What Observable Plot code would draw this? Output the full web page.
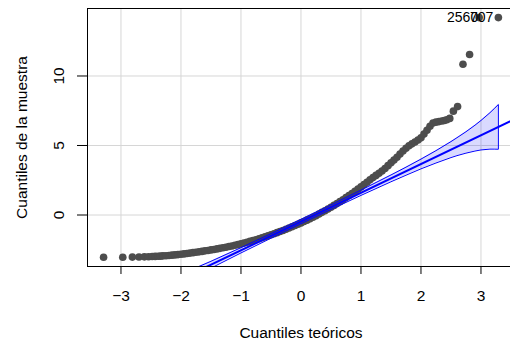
<!DOCTYPE html>
<html><head><meta charset="utf-8">
<script src="https://cdn.jsdelivr.net/npm/d3@7"></script>
<script src="https://cdn.jsdelivr.net/npm/@observablehq/plot@0.6"></script>
<style>body{margin:0;background:#fff;overflow:hidden;}</style>
</head><body><div id="chart"></div>
<script>
// Theoretical quantiles (x) and sample quantiles (y)
const theoretical = [-3.29,-2.97,-2.81,-2.70,-2.61,-2.54,-2.48,-2.43,-2.38,-2.34,
  -2.30,-2.25,-2.20,-2.15,-2.10,-2.05,-2.00,-1.95,-1.90,-1.85,
  -1.80,-1.75,-1.70,-1.65,-1.60,-1.55,-1.50,-1.45,-1.40,-1.35,
  -1.30,-1.25,-1.20,-1.15,-1.10,-1.05,-1.00,-0.95,-0.90,-0.85,
  -0.80,-0.75,-0.70,-0.65,-0.60,-0.55,-0.50,-0.45,-0.40,-0.35,
  -0.30,-0.25,-0.20,-0.15,-0.10,-0.05,0.00,0.05,0.10,0.15,
  0.20,0.25,0.30,0.35,0.40,0.45,0.50,0.55,0.60,0.65,
  0.70,0.75,0.80,0.85,0.90,0.95,1.00,1.05,1.10,1.15,
  1.20,1.25,1.30,1.35,1.40,1.45,1.50,1.55,1.60,1.65,
  1.70,1.75,1.80,1.85,1.90,1.95,2.00,2.05,2.10,2.15,
  2.20,2.25,2.30,2.35,2.39,2.43,2.48,2.54,2.61,2.70,
  2.81,2.97,3.29];
const sample = [-3.04,-3.04,-3.03,-3.02,-3.01,-3.00,-2.99,-2.98,-2.97,-2.96,
  -2.94,-2.93,-2.91,-2.89,-2.87,-2.85,-2.82,-2.80,-2.77,-2.74,
  -2.71,-2.68,-2.65,-2.62,-2.58,-2.55,-2.51,-2.48,-2.44,-2.40,
  -2.36,-2.32,-2.27,-2.23,-2.18,-2.13,-2.07,-2.02,-1.96,-1.90,
  -1.84,-1.78,-1.71,-1.64,-1.57,-1.50,-1.42,-1.35,-1.27,-1.19,
  -1.11,-1.03,-0.94,-0.85,-0.76,-0.67,-0.57,-0.47,-0.37,-0.27,
  -0.16,-0.05,0.07,0.19,0.31,0.43,0.56,0.69,0.82,0.96,
  1.10,1.25,1.40,1.55,1.70,1.86,2.02,2.19,2.36,2.53,
  2.70,2.85,3.00,3.17,3.35,3.55,3.75,3.95,4.15,4.38,
  4.60,4.80,4.98,5.12,5.25,5.40,5.55,5.82,6.10,6.38,
  6.62,6.68,6.72,6.76,6.80,6.85,6.95,7.47,7.80,10.85,
  11.55,14.20,14.20];

// Labelled observations
const labelIds = ["2560", "707"];
const labelTheo = [2.97, 3.29];
const labelSample = [14.20, 14.20];
const labelShift = [-1, -5];

// Confidence envelope
const envZ  = [-2.0, -1.5, -1.0, -0.5, 0.0, 0.5, 1.0, 1.5, 1.75, 2.0, 2.25, 2.5, 2.6, 2.75, 2.9, 3.0, 3.15, 3.22, 3.29];
const envLo = [-4.96,-3.82,-2.73,-1.67,-0.63,0.40,1.41,2.39,2.86,3.32,3.74,4.13,4.27,4.45,4.60,4.68,4.74,4.74,4.73];
const envHi = [-4.26,-3.33,-2.35,-1.34,-0.31,0.73,1.79,2.88,3.44,4.02,4.63,5.28,5.56,5.99,6.46,6.80,7.36,7.65,7.95];

// Reference line
const fitZ = [-3.6, 3.6];
const fitY = [-7.92, 6.98];

const xTicks = [-3, -2, -1, 0, 1, 2, 3];
const yTicks = [0, 5, 10];
const xTitle = "Cuantiles teóricos";
const yTitle = "Cuantiles de la muestra";

const xDomain = [-3.558, 3.492];
const yDomain = [-3.705, 14.856];

const pts = theoretical.map((z, i) => ({z, s: sample[i]}));
const env = envZ.map((z, i) => ({z, lo: envLo[i], hi: envHi[i]}));
const outline = [...env.map(d => ({z: d.z, v: d.hi})), ...env.slice().reverse().map(d => ({z: d.z, v: d.lo})), {z: env[0].z, v: env[0].hi}];
const fit = fitZ.map((z, i) => ({z, v: fitY[i]}));
const labels = labelIds.map((t, i) => ({t, z: labelTheo[i], s: labelSample[i], dx: labelShift[i]}));
const fmt = d => (d < 0 ? "\u2212" : "") + Math.abs(d);

const blue = "#0000ff";
const fs = 15.5;
const chart = Plot.plot({
  width: 510, height: 345,
  marginLeft: 87, marginRight: 0, marginTop: 8, marginBottom: 79,
  style: {fontFamily: "'Liberation Sans', Arial, sans-serif", fontSize: fs + "px", background: "#fff", color: "#000"},
  x: {domain: xDomain},
  y: {domain: yDomain},
  marks: [
    Plot.gridX(xTicks, {stroke: "#d6d6d6", strokeOpacity: 1, strokeWidth: 1}),
    Plot.gridY(yTicks, {stroke: "#d6d6d6", strokeOpacity: 1, strokeWidth: 1}),
    Plot.areaY(env, {x: "z", y1: "lo", y2: "hi", fill: blue, fillOpacity: 0.15, clip: true}),
    Plot.dot(pts, {x: "z", y: "s", r: 3.8, fill: "#4d4d4d", stroke: null, clip: true}),
    Plot.line(outline, {x: "z", y: "v", stroke: blue, strokeWidth: 1, clip: true, curve: "linear"}),
    Plot.line(fit, {x: "z", y: "v", stroke: blue, strokeWidth: 2, clip: true}),
    ...labels.map(d => Plot.text([d], {x: "z", y: "s", text: "t", textAnchor: "end", lineAnchor: "middle", dx: d.dx, fontSize: 14, fill: "#000"})),
    Plot.ruleX([xDomain[0]], {stroke: "#000", strokeWidth: 1}),
    Plot.ruleY([yDomain[0], yDomain[1]], {stroke: "#000", strokeWidth: 1}),
    Plot.axisX({ticks: xTicks, tickFormat: fmt, tickSize: 8, tickPadding: 15, label: null, fontSize: fs}),
    Plot.axisY({ticks: yTicks, tickFormat: fmt, tickSize: 10, tickPadding: 14, tickRotate: -90, label: null, fontSize: fs}),
    Plot.text([xTitle], {x: [0], frameAnchor: "bottom", dy: 67, textAnchor: "middle", lineAnchor: "middle", fontSize: fs, fill: "#000"}),
    Plot.text([yTitle], {frameAnchor: "left", dx: -65.6, rotate: -90, textAnchor: "middle", lineAnchor: "middle", fontSize: fs, fill: "#000"})
  ]
});
document.getElementById("chart").appendChild(chart);
</script>
</body></html>
